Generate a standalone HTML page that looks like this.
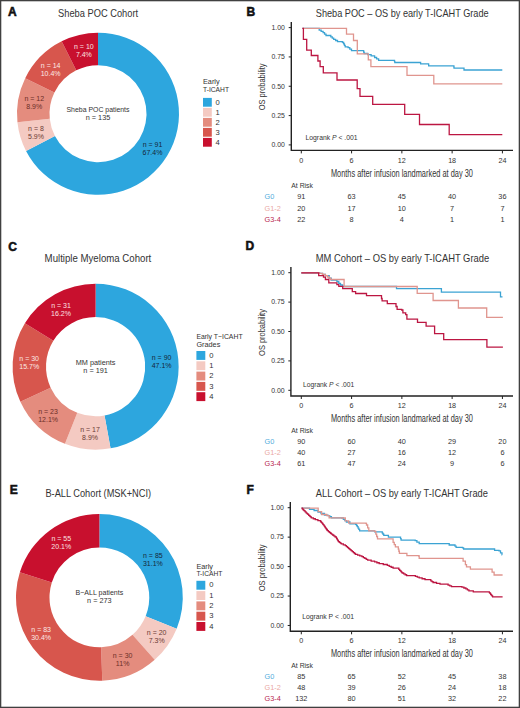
<!DOCTYPE html><html><head><meta charset="utf-8"><style>html,body{margin:0;padding:0;background:#fff;}svg{display:block;}</style></head><body><svg width="520" height="708" viewBox="0 0 520 708" font-family='"Liberation Sans", sans-serif'>
<rect x="0" y="0" width="520" height="708" fill="#fff"/>
<text x="8.00" y="16.20" font-size="12" fill="#111" font-weight="bold" stroke="#111" stroke-width="0.55">A</text>
<text x="58.10" y="16.80" font-size="10.2" fill="#333333" textLength="80" lengthAdjust="spacingAndGlyphs">Sheba POC Cohort</text>
<path d="M98.00,32.70 A81.0,81.0 0 1 1 26.04,150.89 L54.92,135.97 A48.5,48.5 0 1 0 98.00,65.20 Z" fill="#2DA6DE"/>
<path d="M26.04,150.89 A81.0,81.0 0 0 1 17.44,122.17 L49.77,118.77 A48.5,48.5 0 0 0 54.92,135.97 Z" fill="#F4CAC2"/>
<path d="M17.44,122.17 A81.0,81.0 0 0 1 25.20,78.19 L54.41,92.44 A48.5,48.5 0 0 0 49.77,118.77 Z" fill="#E48C7E"/>
<path d="M25.20,78.19 A81.0,81.0 0 0 1 61.65,41.32 L76.23,70.36 A48.5,48.5 0 0 0 54.41,92.44 Z" fill="#D7564D"/>
<path d="M61.65,41.32 A81.0,81.0 0 0 1 98.00,32.70 L98.00,65.20 A48.5,48.5 0 0 0 76.23,70.36 Z" fill="#C8102E"/>
<text x="152.51" y="147.07" font-size="7.0" fill="#15263A" text-anchor="middle">n = 91</text>
<text x="152.51" y="155.07" font-size="7.0" fill="#15263A" text-anchor="middle">67.4%</text>
<text x="35.97" y="131.07" font-size="7.0" fill="#6B3A34" text-anchor="middle">n = 8</text>
<text x="35.97" y="139.07" font-size="7.0" fill="#6B3A34" text-anchor="middle">5.9%</text>
<text x="34.23" y="101.26" font-size="7.0" fill="#6B2E28" text-anchor="middle">n = 12</text>
<text x="34.23" y="109.26" font-size="7.0" fill="#6B2E28" text-anchor="middle">8.9%</text>
<text x="50.65" y="67.98" font-size="7.0" fill="#FCE9E6" text-anchor="middle">n = 14</text>
<text x="50.65" y="75.98" font-size="7.0" fill="#FCE9E6" text-anchor="middle">10.4%</text>
<text x="83.87" y="48.50" font-size="7.0" fill="#FBE3E3" text-anchor="middle">n = 10</text>
<text x="83.87" y="56.50" font-size="7.0" fill="#FBE3E3" text-anchor="middle">7.4%</text>
<text x="98.00" y="112.20" font-size="7.3" fill="#333333" text-anchor="middle" textLength="63" lengthAdjust="spacingAndGlyphs">Sheba POC patients</text>
<text x="98.00" y="120.20" font-size="7.3" fill="#333333" text-anchor="middle">n = 135</text>
<text x="203.00" y="83.90" font-size="7.3" fill="#333333">Early</text>
<text x="203.00" y="91.70" font-size="7.3" fill="#333333" textLength="26" lengthAdjust="spacingAndGlyphs">T-ICAHT</text>
<rect x="203.00" y="97.90" width="8.8" height="8.8" fill="#2DA6DE"/>
<text x="215.60" y="104.50" font-size="7.6" fill="#333333">0</text>
<rect x="203.00" y="107.90" width="8.8" height="8.8" fill="#F4CAC2"/>
<text x="215.60" y="114.50" font-size="7.6" fill="#333333">1</text>
<rect x="203.00" y="117.90" width="8.8" height="8.8" fill="#E48C7E"/>
<text x="215.60" y="124.50" font-size="7.6" fill="#333333">2</text>
<rect x="203.00" y="127.90" width="8.8" height="8.8" fill="#D7564D"/>
<text x="215.60" y="134.50" font-size="7.6" fill="#333333">3</text>
<rect x="203.00" y="137.90" width="8.8" height="8.8" fill="#C8102E"/>
<text x="215.60" y="144.50" font-size="7.6" fill="#333333">4</text>
<text x="8.30" y="250.60" font-size="12" fill="#111" font-weight="bold" stroke="#111" stroke-width="0.55">C</text>
<text x="44.60" y="262.00" font-size="10.0" fill="#333333" textLength="106.7" lengthAdjust="spacingAndGlyphs">Multiple Myeloma Cohort</text>
<path d="M95.60,283.70 A83.0,83.0 0 0 1 110.54,448.35 L104.53,415.49 A49.6,49.6 0 0 0 95.60,317.10 Z" fill="#2DA6DE"/>
<path d="M110.54,448.35 A83.0,83.0 0 0 1 64.94,443.83 L77.28,412.79 A49.6,49.6 0 0 0 104.53,415.49 Z" fill="#F4CAC2"/>
<path d="M64.94,443.83 A83.0,83.0 0 0 1 20.36,401.74 L50.64,387.64 A49.6,49.6 0 0 0 77.28,412.79 Z" fill="#E48C7E"/>
<path d="M20.36,401.74 A83.0,83.0 0 0 1 24.88,323.25 L53.34,340.73 A49.6,49.6 0 0 0 50.64,387.64 Z" fill="#D7564D"/>
<path d="M24.88,323.25 A83.0,83.0 0 0 1 95.60,283.70 L95.60,317.10 A49.6,49.6 0 0 0 53.34,340.73 Z" fill="#C8102E"/>
<text x="161.63" y="359.51" font-size="7.0" fill="#15263A" text-anchor="middle">n = 90</text>
<text x="161.63" y="367.51" font-size="7.0" fill="#15263A" text-anchor="middle">47.1%</text>
<text x="90.07" y="432.48" font-size="7.0" fill="#6B3A34" text-anchor="middle">n = 17</text>
<text x="90.07" y="440.48" font-size="7.0" fill="#6B3A34" text-anchor="middle">8.9%</text>
<text x="48.09" y="413.91" font-size="7.0" fill="#6B2E28" text-anchor="middle">n = 23</text>
<text x="48.09" y="421.91" font-size="7.0" fill="#6B2E28" text-anchor="middle">12.1%</text>
<text x="29.21" y="360.69" font-size="7.0" fill="#FCE9E6" text-anchor="middle">n = 30</text>
<text x="29.21" y="368.69" font-size="7.0" fill="#FCE9E6" text-anchor="middle">15.7%</text>
<text x="61.04" y="308.23" font-size="7.0" fill="#FBE3E3" text-anchor="middle">n = 31</text>
<text x="61.04" y="316.23" font-size="7.0" fill="#FBE3E3" text-anchor="middle">16.2%</text>
<text x="95.60" y="365.20" font-size="7.3" fill="#333333" text-anchor="middle">MM patients</text>
<text x="95.60" y="373.20" font-size="7.3" fill="#333333" text-anchor="middle">n = 191</text>
<text x="196.40" y="338.80" font-size="7.3" fill="#333333" textLength="46.2" lengthAdjust="spacingAndGlyphs">Early T−ICAHT</text>
<text x="196.40" y="346.60" font-size="7.3" fill="#333333">Grades</text>
<rect x="196.40" y="351.00" width="8.9" height="8.9" fill="#2DA6DE"/>
<text x="209.20" y="357.60" font-size="7.6" fill="#333333">0</text>
<rect x="196.40" y="361.30" width="8.9" height="8.9" fill="#F4CAC2"/>
<text x="209.20" y="367.90" font-size="7.6" fill="#333333">1</text>
<rect x="196.40" y="371.60" width="8.9" height="8.9" fill="#E48C7E"/>
<text x="209.20" y="378.20" font-size="7.6" fill="#333333">2</text>
<rect x="196.40" y="381.90" width="8.9" height="8.9" fill="#D7564D"/>
<text x="209.20" y="388.50" font-size="7.6" fill="#333333">3</text>
<rect x="196.40" y="392.20" width="8.9" height="8.9" fill="#C8102E"/>
<text x="209.20" y="398.80" font-size="7.6" fill="#333333">4</text>
<text x="9.80" y="493.80" font-size="12" fill="#111" font-weight="bold" stroke="#111" stroke-width="0.55">E</text>
<text x="45.40" y="497.30" font-size="10.0" fill="#333333" textLength="105.7" lengthAdjust="spacingAndGlyphs">B-ALL Cohort (MSK+NCI)</text>
<path d="M99.40,514.00 A83.4,83.4 0 0 1 176.68,628.76 L145.64,616.16 A49.9,49.9 0 0 0 99.40,547.50 Z" fill="#2DA6DE"/>
<path d="M176.68,628.76 A83.4,83.4 0 0 1 154.70,659.83 L132.49,634.75 A49.9,49.9 0 0 0 145.64,616.16 Z" fill="#F4CAC2"/>
<path d="M154.70,659.83 A83.4,83.4 0 0 1 102.28,680.75 L101.12,647.27 A49.9,49.9 0 0 0 132.49,634.75 Z" fill="#E48C7E"/>
<path d="M102.28,680.75 A83.4,83.4 0 0 1 19.85,572.36 L51.80,582.42 A49.9,49.9 0 0 0 101.12,647.27 Z" fill="#D7564D"/>
<path d="M19.85,572.36 A83.4,83.4 0 0 1 99.40,514.00 L99.40,547.50 A49.9,49.9 0 0 0 51.80,582.42 Z" fill="#C8102E"/>
<text x="152.88" y="557.77" font-size="7.0" fill="#15263A" text-anchor="middle">n = 85</text>
<text x="152.88" y="565.77" font-size="7.0" fill="#15263A" text-anchor="middle">31.1%</text>
<text x="156.71" y="635.49" font-size="7.0" fill="#6B3A34" text-anchor="middle">n = 20</text>
<text x="156.71" y="643.49" font-size="7.0" fill="#6B3A34" text-anchor="middle">7.3%</text>
<text x="122.61" y="657.50" font-size="7.0" fill="#6B2E28" text-anchor="middle">n = 30</text>
<text x="122.61" y="665.50" font-size="7.0" fill="#6B2E28" text-anchor="middle">11%</text>
<text x="41.15" y="632.25" font-size="7.0" fill="#FCE9E6" text-anchor="middle">n = 83</text>
<text x="41.15" y="640.25" font-size="7.0" fill="#FCE9E6" text-anchor="middle">30.4%</text>
<text x="61.28" y="541.46" font-size="7.0" fill="#FBE3E3" text-anchor="middle">n = 55</text>
<text x="61.28" y="549.46" font-size="7.0" fill="#FBE3E3" text-anchor="middle">20.1%</text>
<text x="99.40" y="595.10" font-size="7.3" fill="#333333" text-anchor="middle" textLength="47.7" lengthAdjust="spacingAndGlyphs">B−ALL patients</text>
<text x="99.40" y="603.10" font-size="7.3" fill="#333333" text-anchor="middle">n = 273</text>
<text x="196.40" y="568.50" font-size="7.3" fill="#333333">Early</text>
<text x="196.40" y="576.30" font-size="7.3" fill="#333333" textLength="26" lengthAdjust="spacingAndGlyphs">T-ICAHT</text>
<rect x="196.40" y="580.80" width="8.9" height="8.9" fill="#2DA6DE"/>
<text x="209.20" y="587.40" font-size="7.6" fill="#333333">0</text>
<rect x="196.40" y="591.10" width="8.9" height="8.9" fill="#F4CAC2"/>
<text x="209.20" y="597.70" font-size="7.6" fill="#333333">1</text>
<rect x="196.40" y="601.40" width="8.9" height="8.9" fill="#E48C7E"/>
<text x="209.20" y="608.00" font-size="7.6" fill="#333333">2</text>
<rect x="196.40" y="611.70" width="8.9" height="8.9" fill="#D7564D"/>
<text x="209.20" y="618.30" font-size="7.6" fill="#333333">3</text>
<rect x="196.40" y="622.00" width="8.9" height="8.9" fill="#C8102E"/>
<text x="209.20" y="628.60" font-size="7.6" fill="#333333">4</text>
<text x="246.50" y="15.90" font-size="12" fill="#111" font-weight="bold" stroke="#111" stroke-width="0.55">B</text>
<text x="315.80" y="16.80" font-size="10.2" fill="#333333" textLength="172.8" lengthAdjust="spacingAndGlyphs">Sheba POC – OS by early T-ICAHT Grade</text>
<path d="M302.40,28.30 H317.30 V28.30 H319.20 V30.20 H321.15 V31.40 H323.10 V32.60 H324.55 V34.05 H326.00 V35.50 H330.80 V36.90 H332.25 V38.10 H333.70 V39.30 H335.60 V40.50 H337.50 V41.70 H342.30 V42.20 H342.90 V42.50 H343.67 V43.93 H344.43 V45.37 H345.20 V46.80 H348.10 V47.70 H349.80 V49.15 H351.50 V50.60 H363.10 V50.60 H363.65 V52.05 H364.20 V53.50 H367.70 V54.60 H371.10 V55.80 H374.60 V57.50 H376.60 V58.95 H378.60 V60.40 H394.20 V60.40 H394.50 V61.45 H394.80 V62.50 H420.40 V62.50 H420.60 V63.80 H428.50 V63.80 H428.60 V64.80 H428.70 V65.80 H453.80 V65.80 H453.90 V67.00 H454.00 V68.20 H463.80 V68.20 H464.00 V70.00 H502.30" fill="none" stroke="#3BA3D3" stroke-width="1.3" stroke-linejoin="miter"/>
<path d="M302.40,28.30 H346.50 V34.20 H353.50 V40.50 H357.30 V53.80 H368.30 V59.80 H370.90 V66.70 H407.00 V75.30 H433.80 V83.80 H502.30" fill="none" stroke="#E0958E" stroke-width="1.3" stroke-linejoin="miter"/>
<path d="M302.40,28.30 H303.40 V39.30 H306.70 V50.20 H311.30 V55.50 H317.90 V61.00 H320.10 V66.70 H323.30 V72.90 H337.00 V80.00 H357.20 V88.70 H360.00 V96.30 H372.70 V104.40 H404.70 V114.30 H419.50 V124.50 H449.20 V134.60 H502.30" fill="none" stroke="#BC1642" stroke-width="1.3" stroke-linejoin="miter"/>
<path d="M291.30,22.00 V150.40 H513" fill="none" stroke="#222" stroke-width="1.4"/>
<line x1="288.70" y1="27.60" x2="291.30" y2="27.60" stroke="#222" stroke-width="1"/>
<text x="284.90" y="29.90" font-size="7.2" fill="#333333" text-anchor="end" textLength="13.4" lengthAdjust="spacingAndGlyphs">1.00</text>
<line x1="288.70" y1="56.93" x2="291.30" y2="56.93" stroke="#222" stroke-width="1"/>
<text x="284.90" y="59.23" font-size="7.2" fill="#333333" text-anchor="end" textLength="13.4" lengthAdjust="spacingAndGlyphs">0.75</text>
<line x1="288.70" y1="86.25" x2="291.30" y2="86.25" stroke="#222" stroke-width="1"/>
<text x="284.90" y="88.55" font-size="7.2" fill="#333333" text-anchor="end" textLength="13.4" lengthAdjust="spacingAndGlyphs">0.50</text>
<line x1="288.70" y1="115.58" x2="291.30" y2="115.58" stroke="#222" stroke-width="1"/>
<text x="284.90" y="117.88" font-size="7.2" fill="#333333" text-anchor="end" textLength="13.4" lengthAdjust="spacingAndGlyphs">0.25</text>
<line x1="288.70" y1="144.90" x2="291.30" y2="144.90" stroke="#222" stroke-width="1"/>
<text x="284.90" y="147.20" font-size="7.2" fill="#333333" text-anchor="end" textLength="13.4" lengthAdjust="spacingAndGlyphs">0.00</text>
<line x1="301.30" y1="150.40" x2="301.30" y2="153.40" stroke="#222" stroke-width="1"/>
<text x="301.30" y="163.20" font-size="7.2" fill="#333333" text-anchor="middle">0</text>
<line x1="351.58" y1="150.40" x2="351.58" y2="153.40" stroke="#222" stroke-width="1"/>
<text x="351.58" y="163.20" font-size="7.2" fill="#333333" text-anchor="middle">6</text>
<line x1="401.86" y1="150.40" x2="401.86" y2="153.40" stroke="#222" stroke-width="1"/>
<text x="401.86" y="163.20" font-size="7.2" fill="#333333" text-anchor="middle">12</text>
<line x1="452.14" y1="150.40" x2="452.14" y2="153.40" stroke="#222" stroke-width="1"/>
<text x="452.14" y="163.20" font-size="7.2" fill="#333333" text-anchor="middle">18</text>
<line x1="502.42" y1="150.40" x2="502.42" y2="153.40" stroke="#222" stroke-width="1"/>
<text x="502.42" y="163.20" font-size="7.2" fill="#333333" text-anchor="middle">24</text>
<text x="401.90" y="177.00" font-size="10.8" fill="#333333" text-anchor="middle" textLength="142" lengthAdjust="spacingAndGlyphs">Months after infusion landmarked at day 30</text>
<text x="0" y="0" font-size="8.3" fill="#333333" text-anchor="middle" textLength="46.8" lengthAdjust="spacingAndGlyphs" transform="translate(265.00,86.90) rotate(-90)">OS probability</text>
<text x="305.50" y="140.30" font-size="7.0" fill="#333333" textLength="52.1" lengthAdjust="spacingAndGlyphs">Logrank <tspan font-style="italic">P</tspan> &lt; .001</text>
<text x="291.30" y="187.80" font-size="7.0" fill="#333333" textLength="21.6" lengthAdjust="spacingAndGlyphs">At Risk</text>
<text x="264.50" y="199.20" font-size="7.3" fill="#52ACDC">G0</text>
<text x="301.30" y="199.20" font-size="7.3" fill="#333333" text-anchor="middle">91</text>
<text x="351.58" y="199.20" font-size="7.3" fill="#333333" text-anchor="middle">63</text>
<text x="401.86" y="199.20" font-size="7.3" fill="#333333" text-anchor="middle">45</text>
<text x="452.14" y="199.20" font-size="7.3" fill="#333333" text-anchor="middle">40</text>
<text x="502.42" y="199.20" font-size="7.3" fill="#333333" text-anchor="middle">36</text>
<text x="264.50" y="210.65" font-size="7.3" fill="#EAA8A4">G1-2</text>
<text x="301.30" y="210.65" font-size="7.3" fill="#333333" text-anchor="middle">20</text>
<text x="351.58" y="210.65" font-size="7.3" fill="#333333" text-anchor="middle">17</text>
<text x="401.86" y="210.65" font-size="7.3" fill="#333333" text-anchor="middle">10</text>
<text x="452.14" y="210.65" font-size="7.3" fill="#333333" text-anchor="middle">7</text>
<text x="502.42" y="210.65" font-size="7.3" fill="#333333" text-anchor="middle">7</text>
<text x="264.50" y="222.10" font-size="7.3" fill="#B82850">G3-4</text>
<text x="301.30" y="222.10" font-size="7.3" fill="#333333" text-anchor="middle">22</text>
<text x="351.58" y="222.10" font-size="7.3" fill="#333333" text-anchor="middle">8</text>
<text x="401.86" y="222.10" font-size="7.3" fill="#333333" text-anchor="middle">4</text>
<text x="452.14" y="222.10" font-size="7.3" fill="#333333" text-anchor="middle">1</text>
<text x="502.42" y="222.10" font-size="7.3" fill="#333333" text-anchor="middle">1</text>
<text x="245.50" y="250.00" font-size="12" fill="#111" font-weight="bold" stroke="#111" stroke-width="0.55">D</text>
<text x="315.80" y="261.90" font-size="10.2" fill="#333333" textLength="173.4" lengthAdjust="spacingAndGlyphs">MM Cohort – OS by early T-ICAHT Grade</text>
<path d="M301.30,272.80 H319.60 V273.30 H322.50 V274.30 H325.40 V275.70 H329.20 V278.10 H331.20 V280.00 H336.90 V281.50 H338.80 V283.40 H340.50 V285.00 H342.70 V286.50 H396.50 V288.70 H441.40 V292.10 H500.50 V296.80 H502.50" fill="none" stroke="#3BA3D3" stroke-width="1.3" stroke-linejoin="miter"/>
<path d="M301.30,272.80 H319.60 V273.30 H322.50 V274.30 H325.40 V275.70 H327.50 V277.00 H329.20 V278.10 H330.70 V279.50 H344.10 V286.50 H417.20 V293.30 H433.10 V300.50 H458.40 V308.00 H486.70 V317.40 H502.90" fill="none" stroke="#E0958E" stroke-width="1.3" stroke-linejoin="miter"/>
<path d="M301.30,272.80 H318.70 V275.70 H323.50 V277.10 H325.40 V279.50 H328.80 V282.90 H336.90 V284.60 H338.80 V286.30 H342.70 V288.70 H352.30 V291.60 H355.60 V293.50 H366.50 V295.60 H381.50 V298.50 H382.10 V300.80 H387.30 V303.60 H396.00 V306.50 H397.10 V309.40 H401.70 V310.00 H402.90 V312.90 H405.70 V314.60 H406.90 V319.20 H417.50 V322.40 H426.10 V326.10 H434.60 V333.60 H443.70 V339.60 H486.90 V347.20 H502.90" fill="none" stroke="#BC1642" stroke-width="1.3" stroke-linejoin="miter"/>
<path d="M290.90,267.10 V396.00 H513" fill="none" stroke="#222" stroke-width="1.4"/>
<line x1="288.30" y1="272.70" x2="290.90" y2="272.70" stroke="#222" stroke-width="1"/>
<text x="284.55" y="275.00" font-size="7.2" fill="#333333" text-anchor="end" textLength="13.4" lengthAdjust="spacingAndGlyphs">1.00</text>
<line x1="288.30" y1="302.10" x2="290.90" y2="302.10" stroke="#222" stroke-width="1"/>
<text x="284.55" y="304.40" font-size="7.2" fill="#333333" text-anchor="end" textLength="13.4" lengthAdjust="spacingAndGlyphs">0.75</text>
<line x1="288.30" y1="331.50" x2="290.90" y2="331.50" stroke="#222" stroke-width="1"/>
<text x="284.55" y="333.80" font-size="7.2" fill="#333333" text-anchor="end" textLength="13.4" lengthAdjust="spacingAndGlyphs">0.50</text>
<line x1="288.30" y1="360.90" x2="290.90" y2="360.90" stroke="#222" stroke-width="1"/>
<text x="284.55" y="363.20" font-size="7.2" fill="#333333" text-anchor="end" textLength="13.4" lengthAdjust="spacingAndGlyphs">0.25</text>
<line x1="288.30" y1="390.30" x2="290.90" y2="390.30" stroke="#222" stroke-width="1"/>
<text x="284.55" y="392.60" font-size="7.2" fill="#333333" text-anchor="end" textLength="13.4" lengthAdjust="spacingAndGlyphs">0.00</text>
<line x1="301.30" y1="396.00" x2="301.30" y2="399.00" stroke="#222" stroke-width="1"/>
<text x="301.30" y="408.30" font-size="7.2" fill="#333333" text-anchor="middle">0</text>
<line x1="351.58" y1="396.00" x2="351.58" y2="399.00" stroke="#222" stroke-width="1"/>
<text x="351.58" y="408.30" font-size="7.2" fill="#333333" text-anchor="middle">6</text>
<line x1="401.86" y1="396.00" x2="401.86" y2="399.00" stroke="#222" stroke-width="1"/>
<text x="401.86" y="408.30" font-size="7.2" fill="#333333" text-anchor="middle">12</text>
<line x1="452.14" y1="396.00" x2="452.14" y2="399.00" stroke="#222" stroke-width="1"/>
<text x="452.14" y="408.30" font-size="7.2" fill="#333333" text-anchor="middle">18</text>
<line x1="502.42" y1="396.00" x2="502.42" y2="399.00" stroke="#222" stroke-width="1"/>
<text x="502.42" y="408.30" font-size="7.2" fill="#333333" text-anchor="middle">24</text>
<text x="401.90" y="422.10" font-size="10.8" fill="#333333" text-anchor="middle" textLength="142" lengthAdjust="spacingAndGlyphs">Months after infusion landmarked at day 30</text>
<text x="0" y="0" font-size="8.3" fill="#333333" text-anchor="middle" textLength="46.8" lengthAdjust="spacingAndGlyphs" transform="translate(264.88,332.50) rotate(-90)">OS probability</text>
<text x="303.00" y="387.30" font-size="7.0" fill="#333333" textLength="51.2" lengthAdjust="spacingAndGlyphs">Logrank <tspan font-style="italic">P</tspan> &lt; .001</text>
<text x="291.30" y="432.90" font-size="7.0" fill="#333333" textLength="21.6" lengthAdjust="spacingAndGlyphs">At Risk</text>
<text x="264.50" y="444.00" font-size="7.3" fill="#52ACDC">G0</text>
<text x="301.30" y="444.00" font-size="7.3" fill="#333333" text-anchor="middle">90</text>
<text x="351.58" y="444.00" font-size="7.3" fill="#333333" text-anchor="middle">60</text>
<text x="401.86" y="444.00" font-size="7.3" fill="#333333" text-anchor="middle">40</text>
<text x="452.14" y="444.00" font-size="7.3" fill="#333333" text-anchor="middle">29</text>
<text x="502.42" y="444.00" font-size="7.3" fill="#333333" text-anchor="middle">20</text>
<text x="264.50" y="454.75" font-size="7.3" fill="#EAA8A4">G1-2</text>
<text x="301.30" y="454.75" font-size="7.3" fill="#333333" text-anchor="middle">40</text>
<text x="351.58" y="454.75" font-size="7.3" fill="#333333" text-anchor="middle">27</text>
<text x="401.86" y="454.75" font-size="7.3" fill="#333333" text-anchor="middle">16</text>
<text x="452.14" y="454.75" font-size="7.3" fill="#333333" text-anchor="middle">12</text>
<text x="502.42" y="454.75" font-size="7.3" fill="#333333" text-anchor="middle">6</text>
<text x="264.50" y="465.50" font-size="7.3" fill="#B82850">G3-4</text>
<text x="301.30" y="465.50" font-size="7.3" fill="#333333" text-anchor="middle">61</text>
<text x="351.58" y="465.50" font-size="7.3" fill="#333333" text-anchor="middle">47</text>
<text x="401.86" y="465.50" font-size="7.3" fill="#333333" text-anchor="middle">24</text>
<text x="452.14" y="465.50" font-size="7.3" fill="#333333" text-anchor="middle">9</text>
<text x="502.42" y="465.50" font-size="7.3" fill="#333333" text-anchor="middle">6</text>
<text x="246.50" y="494.20" font-size="12" fill="#111" font-weight="bold" stroke="#111" stroke-width="0.55">F</text>
<text x="315.80" y="496.90" font-size="10.2" fill="#333333" textLength="172.1" lengthAdjust="spacingAndGlyphs">ALL Cohort – OS by early T-ICAHT Grade</text>
<path d="M301.50,508.20 H309.00 V508.20 H309.50 V509.30 H314.10 V510.50 H318.00 V512.00 H321.00 V513.50 H324.50 V515.10 H328.00 V515.70 H329.70 V516.75 H331.40 V517.80 H341.80 V518.00 H343.33 V519.33 H344.87 V520.67 H346.40 V522.00 H349.90 V523.80 H355.70 V524.30 H356.50 V525.50 H357.30 V526.70 H358.07 V528.07 H358.83 V529.43 H359.60 V530.80 H374.60 V531.90 H381.50 V531.90 H382.27 V533.07 H383.03 V534.23 H383.80 V535.40 H388.40 V537.10 H400.00 V537.10 H400.55 V538.65 H401.10 V540.20 H415.20 V540.60 H416.90 V542.10 H419.20 V543.60 H448.10 V543.60 H449.20 V545.00 H455.00 V546.10 H456.10 V547.30 H462.50 V547.90 H463.60 V549.00 H493.10 V549.00 H494.60 V550.30 H499.00 V550.80 H500.50 V552.80 H502.00 V554.80 H502.20" fill="none" stroke="#3BA3D3" stroke-width="1.3" stroke-linejoin="miter"/>
<path d="M301.50,508.20 H317.00 V508.20 H318.20 V511.70 H321.60 V514.50 H326.80 V515.70 H329.10 V517.80 H341.80 V518.00 H345.30 V520.90 H348.70 V523.20 H366.00 V523.30 H366.50 V525.00 H367.65 V527.90 H368.80 V530.80 H374.60 V531.30 H375.80 V534.20 H376.65 V536.50 H377.50 V538.80 H391.90 V538.80 H393.10 V542.30 H394.25 V544.60 H395.40 V546.90 H398.30 V549.20 H398.85 V551.25 H399.40 V553.30 H406.30 V553.30 H406.90 V555.60 H418.70 V556.00 H419.20 V558.30 H461.30 V558.30 H463.10 V561.10 H465.40 V564.60 H466.50 V566.90 H470.40 V569.10 H491.10 V569.10 H492.10 V572.10 H494.10 V575.00 H502.60" fill="none" stroke="#E0958E" stroke-width="1.3" stroke-linejoin="miter"/>
<path d="M301.50,508.20 H302.42 V509.12 H303.34 V510.04 H304.26 V510.96 H305.18 V511.88 H306.10 V512.80 H306.97 V513.63 H307.83 V514.47 H308.70 V515.30 H309.57 V516.13 H310.43 V516.97 H311.30 V517.80 H313.30 V518.75 H315.30 V519.70 H317.90 V520.60 H320.50 V521.50 H321.23 V522.35 H321.95 V523.20 H322.67 V524.05 H323.40 V524.90 H324.07 V525.87 H324.73 V526.83 H325.40 V527.80 H326.07 V528.77 H326.73 V529.73 H327.40 V530.70 H328.40 V531.55 H329.40 V532.40 H330.40 V533.25 H331.40 V534.10 H332.57 V534.98 H333.75 V535.85 H334.93 V536.73 H336.10 V537.60 H336.68 V538.60 H337.25 V539.60 H337.82 V540.60 H338.40 V541.60 H339.37 V542.37 H340.33 V543.13 H341.30 V543.90 H343.30 V544.80 H345.30 V545.70 H346.43 V546.67 H347.57 V547.63 H348.70 V548.60 H349.88 V549.60 H351.05 V550.60 H352.22 V551.60 H353.40 V552.60 H354.45 V553.50 H355.50 V554.40 H357.63 V555.17 H359.77 V555.93 H361.90 V556.70 H363.35 V557.58 H364.80 V558.45 H366.25 V559.33 H367.70 V560.20 H371.15 V561.05 H374.60 V561.90 H376.90 V562.75 H379.20 V563.60 H383.25 V564.50 H387.30 V565.40 H389.23 V566.33 H391.17 V567.27 H393.10 V568.20 H398.80 V569.40 H399.65 V570.30 H400.50 V571.20 H401.35 V572.10 H402.20 V573.00 H403.67 V573.87 H405.13 V574.73 H406.60 V575.60 H413.50 V575.60 H415.40 V576.37 H417.30 V577.13 H419.20 V577.90 H422.10 V578.75 H425.00 V579.60 H430.80 V580.80 H431.95 V581.65 H433.10 V582.50 H436.55 V583.35 H440.00 V584.20 H448.10 V585.10 H449.80 V585.90 H451.50 V586.70 H461.90 V587.10 H463.90 V588.00 H465.90 V588.90 H467.40 V589.85 H468.90 V590.80 H473.30 V591.80 H488.70 V591.80 H489.33 V592.63 H489.97 V593.47 H490.60 V594.30 H491.27 V595.13 H491.93 V595.97 H492.60 V596.80 H502.60" fill="none" stroke="#BC1642" stroke-width="1.3" stroke-linejoin="miter"/>
<path d="M290.30,502.10 V631.30 H513" fill="none" stroke="#222" stroke-width="1.4"/>
<line x1="287.70" y1="507.70" x2="290.30" y2="507.70" stroke="#222" stroke-width="1"/>
<text x="283.85" y="510.00" font-size="7.2" fill="#333333" text-anchor="end" textLength="13.4" lengthAdjust="spacingAndGlyphs">1.00</text>
<line x1="287.70" y1="537.14" x2="290.30" y2="537.14" stroke="#222" stroke-width="1"/>
<text x="283.85" y="539.44" font-size="7.2" fill="#333333" text-anchor="end" textLength="13.4" lengthAdjust="spacingAndGlyphs">0.75</text>
<line x1="287.70" y1="566.59" x2="290.30" y2="566.59" stroke="#222" stroke-width="1"/>
<text x="283.85" y="568.89" font-size="7.2" fill="#333333" text-anchor="end" textLength="13.4" lengthAdjust="spacingAndGlyphs">0.50</text>
<line x1="287.70" y1="596.04" x2="290.30" y2="596.04" stroke="#222" stroke-width="1"/>
<text x="283.85" y="598.34" font-size="7.2" fill="#333333" text-anchor="end" textLength="13.4" lengthAdjust="spacingAndGlyphs">0.25</text>
<line x1="287.70" y1="625.48" x2="290.30" y2="625.48" stroke="#222" stroke-width="1"/>
<text x="283.85" y="627.78" font-size="7.2" fill="#333333" text-anchor="end" textLength="13.4" lengthAdjust="spacingAndGlyphs">0.00</text>
<line x1="301.30" y1="631.30" x2="301.30" y2="634.30" stroke="#222" stroke-width="1"/>
<text x="301.30" y="643.30" font-size="7.2" fill="#333333" text-anchor="middle">0</text>
<line x1="351.58" y1="631.30" x2="351.58" y2="634.30" stroke="#222" stroke-width="1"/>
<text x="351.58" y="643.30" font-size="7.2" fill="#333333" text-anchor="middle">6</text>
<line x1="401.86" y1="631.30" x2="401.86" y2="634.30" stroke="#222" stroke-width="1"/>
<text x="401.86" y="643.30" font-size="7.2" fill="#333333" text-anchor="middle">12</text>
<line x1="452.14" y1="631.30" x2="452.14" y2="634.30" stroke="#222" stroke-width="1"/>
<text x="452.14" y="643.30" font-size="7.2" fill="#333333" text-anchor="middle">18</text>
<line x1="502.42" y1="631.30" x2="502.42" y2="634.30" stroke="#222" stroke-width="1"/>
<text x="502.42" y="643.30" font-size="7.2" fill="#333333" text-anchor="middle">24</text>
<text x="401.90" y="657.10" font-size="10.8" fill="#333333" text-anchor="middle" textLength="142" lengthAdjust="spacingAndGlyphs">Months after infusion landmarked at day 30</text>
<text x="0" y="0" font-size="8.3" fill="#333333" text-anchor="middle" textLength="46.8" lengthAdjust="spacingAndGlyphs" transform="translate(264.70,567.80) rotate(-90)">OS probability</text>
<text x="302.20" y="619.30" font-size="7.0" fill="#333333" textLength="51.8" lengthAdjust="spacingAndGlyphs">Logrank P &lt; .001</text>
<text x="291.30" y="667.90" font-size="7.0" fill="#333333" textLength="21.6" lengthAdjust="spacingAndGlyphs">At Risk</text>
<text x="264.50" y="679.00" font-size="7.3" fill="#52ACDC">G0</text>
<text x="301.30" y="679.00" font-size="7.3" fill="#333333" text-anchor="middle">85</text>
<text x="351.58" y="679.00" font-size="7.3" fill="#333333" text-anchor="middle">65</text>
<text x="401.86" y="679.00" font-size="7.3" fill="#333333" text-anchor="middle">52</text>
<text x="452.14" y="679.00" font-size="7.3" fill="#333333" text-anchor="middle">45</text>
<text x="502.42" y="679.00" font-size="7.3" fill="#333333" text-anchor="middle">38</text>
<text x="264.50" y="689.75" font-size="7.3" fill="#EAA8A4">G1-2</text>
<text x="301.30" y="689.75" font-size="7.3" fill="#333333" text-anchor="middle">48</text>
<text x="351.58" y="689.75" font-size="7.3" fill="#333333" text-anchor="middle">39</text>
<text x="401.86" y="689.75" font-size="7.3" fill="#333333" text-anchor="middle">26</text>
<text x="452.14" y="689.75" font-size="7.3" fill="#333333" text-anchor="middle">24</text>
<text x="502.42" y="689.75" font-size="7.3" fill="#333333" text-anchor="middle">18</text>
<text x="264.50" y="700.50" font-size="7.3" fill="#B82850">G3-4</text>
<text x="301.30" y="700.50" font-size="7.3" fill="#333333" text-anchor="middle">132</text>
<text x="351.58" y="700.50" font-size="7.3" fill="#333333" text-anchor="middle">80</text>
<text x="401.86" y="700.50" font-size="7.3" fill="#333333" text-anchor="middle">51</text>
<text x="452.14" y="700.50" font-size="7.3" fill="#333333" text-anchor="middle">32</text>
<text x="502.42" y="700.50" font-size="7.3" fill="#333333" text-anchor="middle">22</text>
<rect x="0.65" y="0.65" width="518.7" height="706.7" fill="none" stroke="#404040" stroke-width="1.3"/>
</svg></body></html>
